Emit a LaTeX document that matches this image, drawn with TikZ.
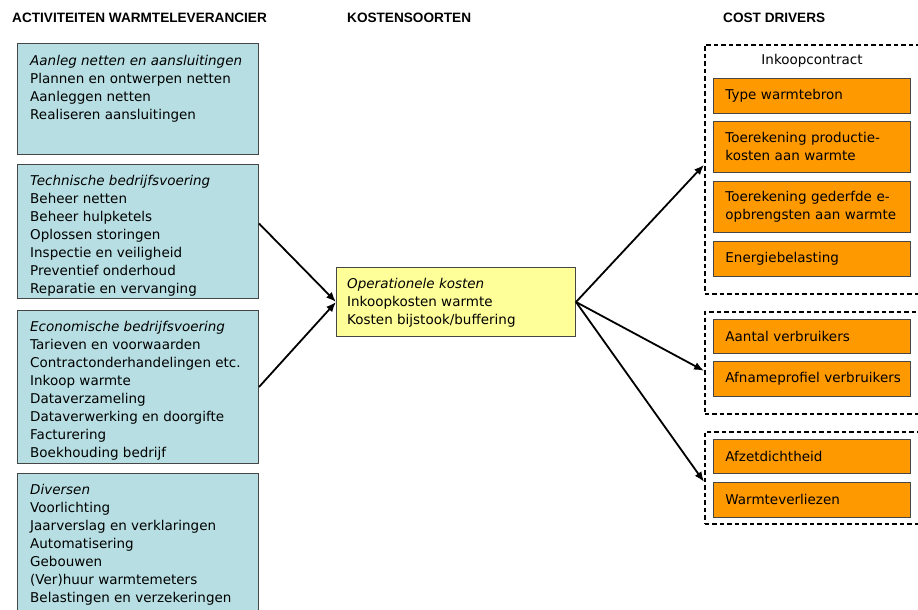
\documentclass[tikz,border=0pt]{standalone}
\usepackage{fontspec}
\setmainfont{DejaVu Sans}
\newfontfamily\headfont{Liberation Sans}
\usetikzlibrary{arrows.meta}
\definecolor{actfill}{RGB}{183,223,227}
\definecolor{costfill}{RGB}{255,255,153}
\definecolor{drvfill}{RGB}{255,153,0}
\definecolor{boxline}{RGB}{70,70,70}
\begin{document}
\begin{tikzpicture}[x=1pt,y=-1pt,
  head/.style={anchor=base west, inner sep=0, font=\headfont\bfseries\fontsize{13.6}{16}\selectfont},
  actbox/.style={draw=boxline, line width=1pt, fill=actfill, anchor=north west,
    minimum width=241pt, inner sep=0},
  costbox/.style={draw=boxline, line width=1pt, fill=costfill, anchor=north west,
    minimum width=239pt, minimum height=69pt, inner sep=0},
  boxtext/.style={anchor=north west, inner sep=0, align=left,
    font=\fontsize{13.5}{18}\selectfont},
  group/.style={draw, line width=1.6pt, dash pattern=on 4.5pt off 3pt,
    anchor=north west, minimum width=216pt, inner sep=0},
  driver/.style={draw=boxline, line width=0.9pt, fill=drvfill, anchor=north west,
    text width=173pt, inner xsep=12pt, inner ysep=0, align=left,
    font=\fontsize{13.5}{18}\selectfont},
  arr/.style={line width=1.8pt, -{Latex[length=10pt,width=8pt]}}
]
\useasboundingbox (0,0) rectangle (918,610);

% column headings
\node[head] (h1) at (12,23) {ACTIVITEITEN WARMTELEVERANCIER};
\node[head] (h2) at (347,23) {KOSTENSOORTEN};
\node[head] (h3) at (723,23) {COST DRIVERS};

% activities
\node[actbox, minimum height=111pt] (b1) at (17,43) {};
\node[boxtext] (t1) at (30,53) {\rule{0pt}{12pt}\textit{Aanleg netten en aansluitingen}\\
  Plannen en ontwerpen netten\\Aanleggen netten\\Realiseren aansluitingen};

\node[actbox, minimum height=134pt] (b2) at (17,164) {};
\node[boxtext] (t2) at (30,173) {\rule{0pt}{12pt}\textit{Technische bedrijfsvoering}\\
  Beheer netten\\Beheer hulpketels\\Oplossen storingen\\Inspectie en veiligheid\\
  Preventief onderhoud\\Reparatie en vervanging};

\node[actbox, minimum height=153pt] (b3) at (17,310) {};
\node[boxtext] (t3) at (30,319) {\rule{0pt}{12pt}\textit{Economische bedrijfsvoering}\\
  Tarieven en voorwaarden\\Contractonderhandelingen etc.\\Inkoop warmte\\
  Dataverzameling\\Dataverwerking en doorgifte\\Facturering\\Boekhouding bedrijf};

\node[actbox, minimum height=145pt] (b4) at (17,473) {};
\node[boxtext] (t4) at (30,482) {\rule{0pt}{12pt}\textit{Diversen}\\
  Voorlichting\\Jaarverslag en verklaringen\\Automatisering\\Gebouwen\\
  (Ver)huur warmtemeters\\Belastingen en verzekeringen};

% cost type
\node[costbox] (k) at (336,267) {};
\node[boxtext] (kt) at (347,276) {\rule{0pt}{12pt}\textit{Operationele kosten}\\
  Inkoopkosten warmte\\Kosten bijstook/buffering};

% cost driver groups
\node[group, minimum height=249pt] (d1) at (704,44) {};
\node[anchor=base, inner sep=0, font=\fontsize{13.5}{16}\selectfont] (d1l) at (812,65) {Inkoopcontract};
\node[driver, minimum height=35pt] (o1) at (713,78) {Type warmtebron};
\node[driver, minimum height=51pt] (o2) at (713,121) {Toerekening productie-\\kosten aan warmte};
\node[driver, minimum height=51pt] (o3) at (713,181) {Toerekening gederfde e-\\opbrengsten aan warmte};
\node[driver, minimum height=35pt] (o4) at (713,241) {Energiebelasting};

\node[group, minimum height=102pt] (d2) at (704,311) {};
\node[driver, minimum height=34pt] (o5) at (713,319) {Aantal verbruikers};
\node[driver, minimum height=35pt] (o6) at (713,361) {\mbox{Afnameprofiel verbruikers}};

\node[group, minimum height=92pt] (d3) at (704,431) {};
\node[driver, minimum height=34pt] (o7) at (713,439) {Afzetdichtheid};
\node[driver, minimum height=35pt] (o8) at (713,482) {Warmteverliezen};

% connectors
\draw[arr] ([yshift=8pt]b2.east) -- (k.west);
\draw[arr] (b3.east) -- (k.west);
\draw[arr] (k.east) -- ([yshift=4.5pt]d1.west);
\draw[arr] (k.east) -- ([yshift=-8pt]d2.west);
\draw[arr] (k.east) -- ([yshift=-4pt]d3.west);
\end{tikzpicture}
\end{document}
